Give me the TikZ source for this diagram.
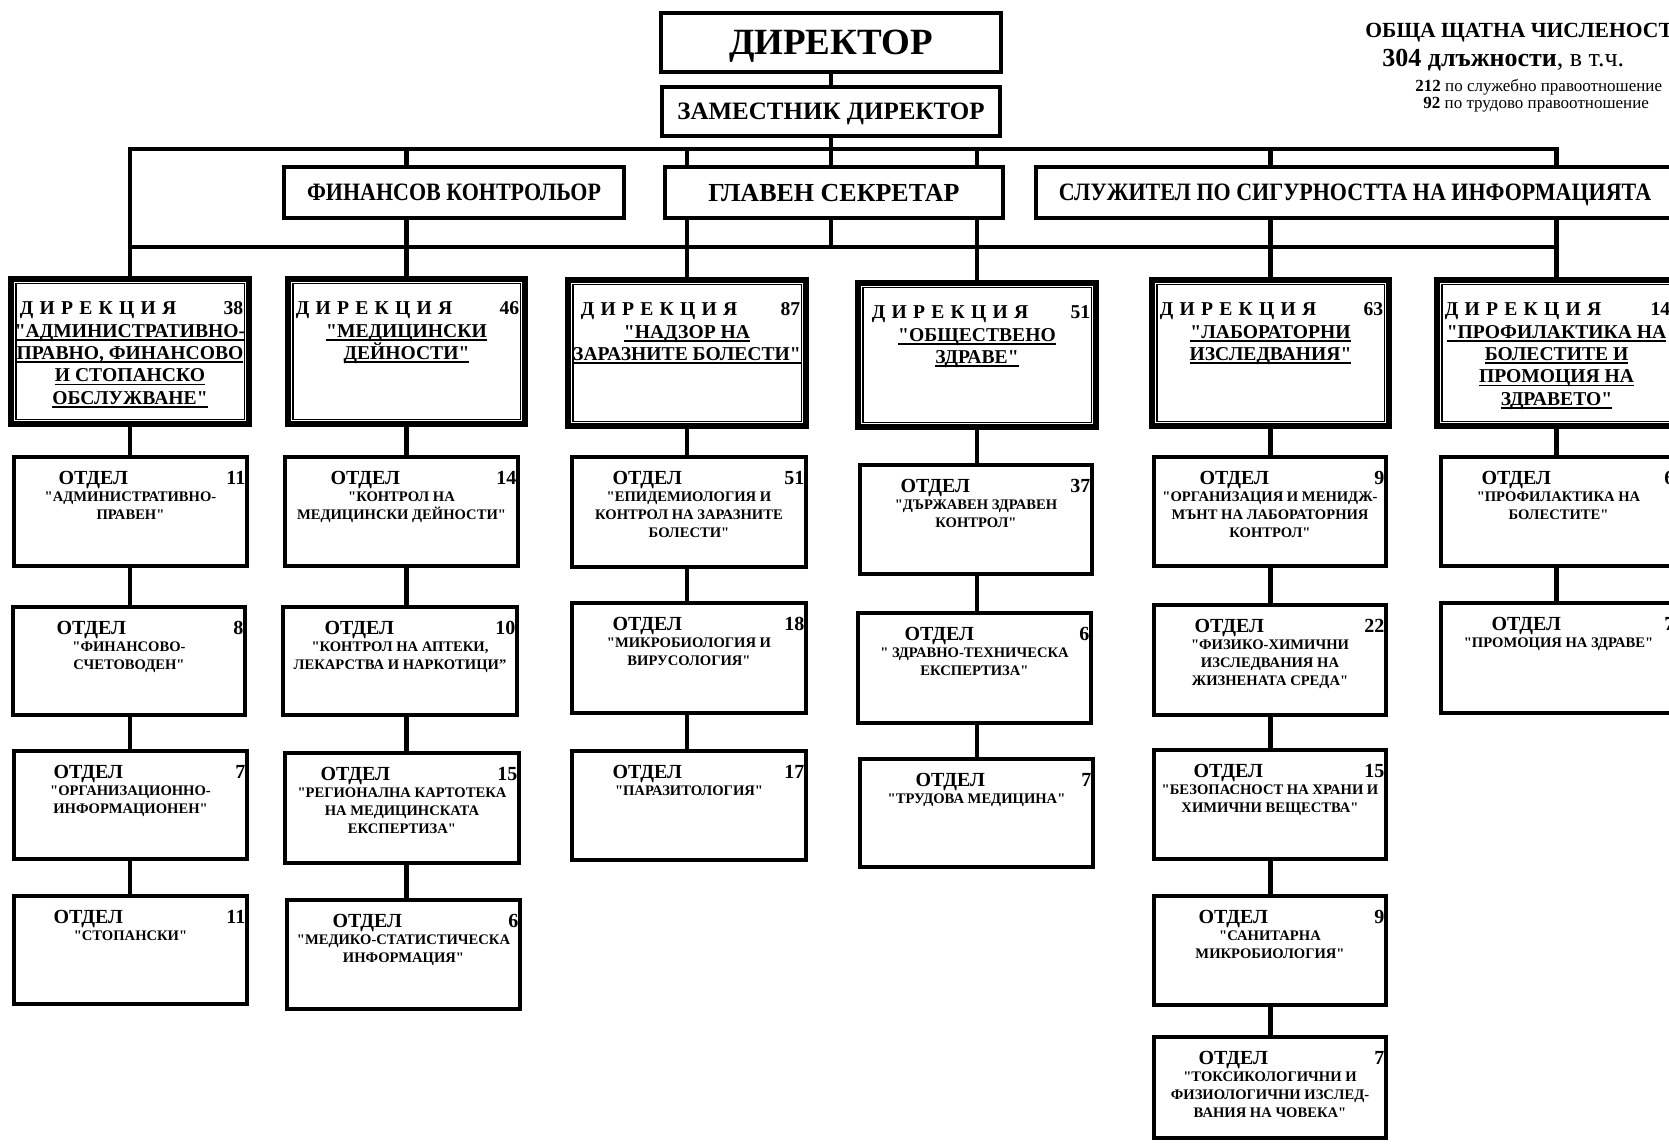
\documentclass[tikz,border=0pt]{standalone}
\usepackage{fontspec}
\setmainfont{Liberation Serif}[Ligatures=TeXOff]
\newfontfamily\condfont{Liberation Serif}[FakeStretch=0.88,Ligatures=TeXOff]
\newcommand\ul[1]{\leavevmode\setbox0=\hbox{#1}\rlap{\rule[-1.8pt]{\wd0}{0.9pt}}\box0}
\newcommand\dirword{Д\hspace{.32em}И\hspace{.32em}Р\hspace{.32em}Е\hspace{.32em}К\hspace{.32em}Ц\hspace{.32em}И\hspace{.32em}Я}
\tikzset{
  conn/.style={line width=2.2pt, line cap=rect},
  topbox/.style={draw, line width=2pt, inner sep=0pt},
  deptbox/.style={draw, line width=1.75pt, inner sep=0pt},
  dirbox/.style={draw, line width=2.6pt, inner sep=0pt,
    path picture={\draw[line width=0.7pt]
      ([shift={(2.4pt,-2.4pt)}]path picture bounding box.north west) rectangle
      ([shift={(-2.4pt,2.4pt)}]path picture bounding box.south east);}},
  otd/.style={inner sep=0pt, font=\fontsize{10}{12}\selectfont\bfseries},
  dname/.style={inner sep=0pt, font=\fontsize{7.3}{9}\selectfont\bfseries},
  dirf/.style={inner sep=0pt, font=\fontsize{9.8}{11.1}\selectfont\bfseries},
}
% box from pixel corners
\newcommand\bx[6]{\node[#1, minimum width={(#5-#3)*0.5pt}, minimum height={(#6-#4)*0.5pt}] (#2) at ({(#3+#5)/2},{(#4+#6)/2}) {};}
\newcommand\dept[8]{%
  \bx{deptbox}{#1}{#2}{#3}{#4}{#5}
  \node[otd, anchor=base west] at ([xshift={#6*0.5pt}, yshift=-14.8pt]#1.north west) {ОТДЕЛ};
  \node[otd, anchor=base east] at ([xshift=-1.5pt, yshift=-14.8pt]#1.north east) {#7};
  \node[dname, anchor=base] at ([yshift=-23.2pt]#1.north) {\parbox[t]{140pt}{\centering #8}};
}
\newcommand\dirb[8]{%
  \bx{dirbox}{#1}{#2}{#3}{#4}{#5}
  \node[dirf, anchor=base west] at ([xshift={#6*0.5pt}, yshift=-19pt]#1.north west) {\dirword};
  \node[dirf, anchor=base east] at ([xshift=-4pt, yshift=-19pt]#1.north east) {#7};
  \node[dirf, anchor=base] at ([yshift=-30.5pt]#1.north) {\parbox[t]{150pt}{\centering #8}};
}
\newcommand\vcon[3]{\draw[conn] (#2.south -| #1.south) -- (#3.north -| #1.south);}
\begin{document}
\begin{tikzpicture}[x=0.5pt,y=-0.5pt]
\useasboundingbox (0,0) rectangle (1669,1144);
\clip (0,0) rectangle (1669,1144);
\fill[white] (0,0) rectangle (1669,1144);

% top boxes
\node[topbox, minimum width=170pt, minimum height=29.5pt, text height=12.2pt, text depth=0pt,
  font=\fontsize{18.5}{20}\selectfont\bfseries] (dir) at (831,42.5) {ДИРЕКТОР};
\node[topbox, minimum width=169pt, minimum height=24.5pt, text height=8.3pt, text depth=0pt,
  font=\fontsize{12.5}{15}\selectfont\bfseries] (zam) at (831,111.5) {ЗАМЕСТНИК ДИРЕКТОР};
\node[topbox, minimum width=170pt, minimum height=25.5pt, text height=8.3pt, text depth=0pt,
  font=\fontsize{12.5}{15}\selectfont\condfont\bfseries] (fin) at (454,192.5) {ФИНАНСОВ КОНТРОЛЬОР};
\node[topbox, minimum width=169pt, minimum height=25.5pt, text height=8.6pt, text depth=0pt,
  font=\fontsize{13}{15}\selectfont\bfseries] (glav) at (834,192.5) {ГЛАВЕН СЕКРЕТАР};
\node[topbox, minimum width=319pt, minimum height=25.5pt, text height=8.3pt, text depth=0pt,
  font=\fontsize{12.5}{15}\selectfont\condfont\bfseries] (sl) at (1355,192.5) {СЛУЖИТЕЛ ПО СИГУРНОСТТА НА ИНФОРМАЦИЯТА};

% top right text
\node[anchor=base west, inner sep=0pt, font=\fontsize{10.8}{12}\selectfont\bfseries] (t1) at (1365,38) {ОБЩА ЩАТНА ЧИСЛЕНОСТ};
\node[anchor=base west, inner sep=0pt, font=\fontsize{13}{15}\selectfont] (t2) at (1382,67) {\textbf{304 длъжности}, в т.ч.};
\node[anchor=base west, inner sep=0pt, font=\fontsize{8.5}{10}\selectfont] (t3) at (1415,92) {\textbf{212} по служебно правоотношение};
\node[anchor=base west, inner sep=0pt, font=\fontsize{8.5}{10}\selectfont] (t4) at (1423,109) {\textbf{92} по трудово правоотношение};

% directorates
\dirb{d1}{11}{279}{249}{424}{11}{38}{\ul{"АДМИНИСТРАТИВНО-}\\\ul{ПРАВНО, ФИНАНСОВО}\\\ul{И СТОПАНСКО}\\\ul{ОБСЛУЖВАНЕ"}}
\dirb{d2}{288}{279}{525}{424}{10}{46}{\ul{"МЕДИЦИНСКИ}\\\ul{ДЕЙНОСТИ"}}
\dirb{d3}{568}{280}{806}{426}{15}{87}{\ul{"НАДЗОР НА}\\\ul{ЗАРАЗНИТЕ БОЛЕСТИ"}}
\dirb{d4}{858}{283}{1096}{427}{16}{51}{\ul{"ОБЩЕСТВЕНО}\\\ul{ЗДРАВЕ"}}
\dirb{d5}{1152}{280}{1389}{426}{10}{63}{\ul{"ЛАБОРАТОРНИ}\\\ul{ИЗСЛЕДВАНИЯ"}}
\dirb{d6}{1437}{280}{1676}{426}{10}{14}{\ul{"ПРОФИЛАКТИКА НА}\\\ul{БОЛЕСТИТЕ И}\\\ul{ПРОМОЦИЯ НА}\\\ul{ЗДРАВЕТО"}}

% connectors, top part
\coordinate (bT) at (0,149);
\coordinate (bB) at (0,247);
\draw[conn] (dir.south) -- (zam.north);
\draw[conn] (zam.south) -- (glav.north -| zam.south);
\draw[conn, line cap=butt] (d1.north) -- (d1.north |- bT) -- (d6.north |- bT) -- (sl.north -| d6.north);
\draw[conn] (d1.north |- bB) -- (d6.north |- bB);
\draw[conn] (d2.north |- bT) -- (fin.north -| d2.north);
\draw[conn] (fin.south -| d2.north) -- (d2.north);
\draw[conn] (d3.north |- bT) -- (glav.north -| d3.north);
\draw[conn] (glav.south -| d3.north) -- (d3.north);
\draw[conn] (d4.north |- bT) -- (glav.north -| d4.north);
\draw[conn] (glav.south -| d4.north) -- (d4.north);
\draw[conn] (glav.south -| zam.south) -- (zam.south |- bB);
\draw[conn] (d5.north |- bT) -- (sl.north -| d5.north);
\draw[conn] (sl.south -| d5.north) -- (d5.north);
\draw[conn] (sl.south -| d6.north) -- (d6.north);

% column 1
\dept{a1}{14}{457}{247}{566}{46}{11}{"АДМИНИСТРАТИВНО-\\ПРАВЕН"}
\dept{a2}{13}{607}{245}{715}{45}{8}{"ФИНАНСОВО-\\СЧЕТОВОДЕН"}
\dept{a3}{14}{751}{247}{859}{41}{7}{"ОРГАНИЗАЦИОННО-\\ИНФОРМАЦИОНЕН"}
\dept{a4}{14}{896}{247}{1004}{41}{11}{"СТОПАНСКИ"}
% column 2
\dept{b1}{285}{457}{518}{566}{47}{14}{"КОНТРОЛ НА\\МЕДИЦИНСКИ ДЕЙНОСТИ"}
\dept{b2}{283}{607}{517}{715}{43}{10}{"КОНТРОЛ НА АПТЕКИ,\\ЛЕКАРСТВА И НАРКОТИЦИ”}
\dept{b3}{285}{753}{519}{863}{37}{15}{"РЕГИОНАЛНА КАРТОТЕКА\\НА МЕДИЦИНСКАТА\\ЕКСПЕРТИЗА"}
\dept{b4}{287}{900}{520}{1009}{47}{6}{"МЕДИКО-СТАТИСТИЧЕСКА\\ИНФОРМАЦИЯ"}
% column 3
\dept{c1}{572}{457}{806}{567}{42}{51}{"ЕПИДЕМИОЛОГИЯ И\\КОНТРОЛ НА ЗАРАЗНИТЕ\\БОЛЕСТИ"}
\dept{c2}{572}{603}{806}{713}{42}{18}{"МИКРОБИОЛОГИЯ И\\ВИРУСОЛОГИЯ"}
\dept{c3}{572}{751}{806}{860}{42}{17}{"ПАРАЗИТОЛОГИЯ"}
% column 4
\dept{e1}{860}{465}{1092}{574}{42}{37}{"ДЪРЖАВЕН ЗДРАВЕН\\КОНТРОЛ"}
\dept{e2}{858}{613}{1091}{723}{48}{6}{" ЗДРАВНО-ТЕХНИЧЕСКА\\ЕКСПЕРТИЗА"}
\dept{e3}{860}{759}{1093}{867}{57}{7}{"ТРУДОВА МЕДИЦИНА"}
% column 5
\dept{f1}{1154}{457}{1386}{566}{47}{9}{"ОРГАНИЗАЦИЯ И МЕНИДЖ-\\МЪНТ НА ЛАБОРАТОРНИЯ\\КОНТРОЛ"}
\dept{f2}{1154}{605}{1386}{715}{42}{22}{"ФИЗИКО-ХИМИЧНИ\\ИЗСЛЕДВАНИЯ НА\\ЖИЗНЕНАТА СРЕДА"}
\dept{f3}{1154}{750}{1386}{859}{41}{15}{"БЕЗОПАСНОСТ НА ХРАНИ И\\ХИМИЧНИ ВЕЩЕСТВА"}
\dept{f4}{1154}{896}{1386}{1005}{46}{9}{"САНИТАРНА\\МИКРОБИОЛОГИЯ"}
\dept{f5}{1154}{1037}{1386}{1138}{46}{7}{"ТОКСИКОЛОГИЧНИ И\\ФИЗИОЛОГИЧНИ ИЗСЛЕД-\\ВАНИЯ НА ЧОВЕКА"}
% column 6
\dept{g1}{1441}{457}{1676}{566}{42}{6}{"ПРОФИЛАКТИКА НА\\БОЛЕСТИТЕ"}
\dept{g2}{1441}{603}{1676}{713}{52}{7}{"ПРОМОЦИЯ НА ЗДРАВЕ"}

% connectors, columns
\draw[conn] (d1.south) -- (d1.south |- a1.north);
\vcon{d1}{a1}{a2}\vcon{d1}{a2}{a3}\vcon{d1}{a3}{a4}
\draw[conn] (d2.south) -- (d2.south |- b1.north);
\vcon{d2}{b1}{b2}\vcon{d2}{b2}{b3}\vcon{d2}{b3}{b4}
\draw[conn] (d3.south) -- (d3.south |- c1.north);
\vcon{d3}{c1}{c2}\vcon{d3}{c2}{c3}
\draw[conn] (d4.south) -- (d4.south |- e1.north);
\vcon{d4}{e1}{e2}\vcon{d4}{e2}{e3}
\draw[conn] (d5.south) -- (d5.south |- f1.north);
\vcon{d5}{f1}{f2}\vcon{d5}{f2}{f3}\vcon{d5}{f3}{f4}\vcon{d5}{f4}{f5}
\draw[conn] (d6.south) -- (d6.south |- g1.north);
\vcon{d6}{g1}{g2}
\end{tikzpicture}
\end{document}
